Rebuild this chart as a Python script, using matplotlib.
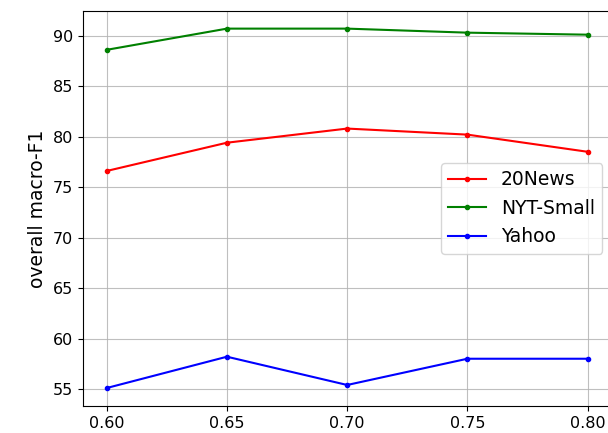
import matplotlib
matplotlib.use("Agg")
import matplotlib.pyplot as plt

ratios = [0.60, 0.65, 0.70, 0.75, 0.80]
news20 = [76.6, 79.4, 80.8, 80.2, 78.5]
nyt_small = [88.6, 90.7, 90.7, 90.3, 90.1]
yahoo = [55.1, 58.2, 55.4, 58.0, 58.0]

fig = plt.figure(figsize=(6.08, 4.33), dpi=100)
# the original picture is cropped on the right, so the axes run past the edge
ax = fig.add_axes([0.136, 0.0624, 0.870, 0.913])

ax.plot(ratios, news20, color="red", marker=".", label="20News")
ax.plot(ratios, nyt_small, color="green", marker=".", label="NYT-Small")
ax.plot(ratios, yahoo, color="blue", marker=".", label="Yahoo")

ax.set_xticks(ratios)
ax.set_xticklabels(["0.60", "0.65", "0.70", "0.75", "0.80"])
ax.set_yticks([55, 60, 65, 70, 75, 80, 85, 90])
ax.tick_params(labelsize=11.5)
ax.set_ylabel("overall macro-F1", fontsize=13.5)
ax.grid(True, color="#b0b0b0", alpha=0.8)
ax.legend(loc="center right", fontsize=13.5)

plt.savefig("out.png", dpi=100)
